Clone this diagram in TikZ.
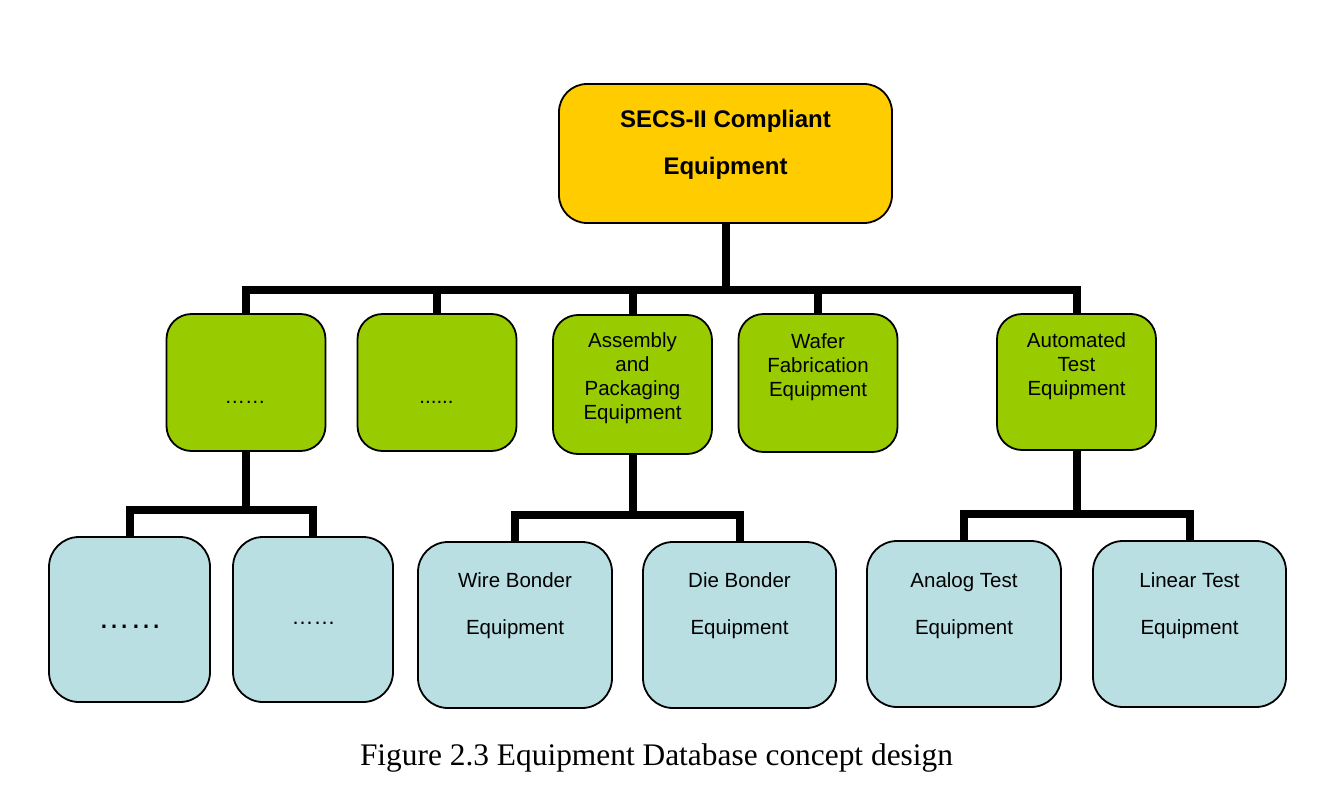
\documentclass[tikz,border=0pt]{standalone}
\usepackage{fontspec}
\setmainfont{Liberation Sans}
\newfontfamily\capfont{Liberation Serif}
\usetikzlibrary{backgrounds}
\definecolor{topyellow}{RGB}{255,204,0}
\definecolor{midgreen}{RGB}{153,204,0}
\definecolor{lowblue}{RGB}{185,223,227}
\begin{document}
\begin{tikzpicture}[x=1pt,y=-1pt,
  boxbase/.style={draw=black,line width=1.8pt,inner sep=0pt,anchor=center},
  topbox/.style={boxbase,fill=topyellow,rounded corners=28pt,minimum width=333pt,minimum height=139pt},
  greenbox/.style={boxbase,fill=midgreen,rounded corners=25pt,minimum width=159pt,minimum height=137pt},
  bluebox/.style={boxbase,fill=lowblue,rounded corners=30pt,minimum width=194pt,minimum height=166pt},
  conn/.style={draw=black,line width=8pt,line join=miter,line cap=butt},
  toptext/.style={inner sep=0pt,anchor=north,align=center,font=\fontsize{24}{47}\selectfont\bfseries},
  greentext/.style={inner sep=0pt,anchor=north,align=center,font=\fontsize{20.5}{24}\selectfont},
  bluetext/.style={inner sep=0pt,anchor=north,align=center,font=\fontsize{20.5}{47}\selectfont},
  dots/.style={inner sep=0pt,anchor=base}
]
\useasboundingbox (0,0) rectangle (1340,792);

% bus coordinates
\coordinate (bus1) at (726,290);
\coordinate (busL) at (245,510);
\coordinate (busM) at (632,515);
\coordinate (busR) at (1077,514);

% boxes
\node[topbox] (top) at (725.5,153.5) {};
\node[greenbox] (g1) at (246,382.5) {};
\node[greenbox] (g2) at (437,382.5) {};
\node[greenbox,minimum height=139pt] (g3) at (632.5,384.5) {};
\node[greenbox,minimum height=138pt] (g4) at (818,383) {};
\node[greenbox,minimum height=136pt] (g5) at (1076.5,382) {};
\node[bluebox,minimum width=161pt,minimum height=165pt] (b1) at (129.5,619.5) {};
\node[bluebox,minimum width=160pt,minimum height=165pt] (b2) at (313,619.5) {};
\node[bluebox] (b3) at (515,625) {};
\node[bluebox,minimum width=193pt] (b4) at (739.5,625) {};
\node[bluebox] (b5) at (964,624) {};
\node[bluebox,minimum width=193pt] (b6) at (1189.5,624) {};

% connectors behind the boxes
\begin{scope}[on background layer]
\fill[white] (0,0) rectangle (1340,792);
\draw[conn] (top.south) -- (top.south |- bus1);
\draw[conn] (g1.north) -- (g1.north |- bus1) -- (g5.north |- bus1) -- (g5.north);
\draw[conn] (g2.north) -- (g2.north |- bus1);
\draw[conn] (g3.north) -- (g3.north |- bus1);
\draw[conn] (g4.north) -- (g4.north |- bus1);
\draw[conn] (g1.south) -- (g1.south |- busL);
\draw[conn] (b1.north) -- (b1.north |- busL) -- (b2.north |- busL) -- (b2.north);
\draw[conn] (g3.south) -- (g3.south |- busM);
\draw[conn] (b3.north) -- (b3.north |- busM) -- (b4.north |- busM) -- (b4.north);
\draw[conn] (g5.south) -- (g5.south |- busR);
\draw[conn] (b5.north) -- (b5.north |- busR) -- (b6.north |- busR) -- (b6.north);
\end{scope}

% texts
\node[toptext] (ttop) at (725.5,110.4) {SECS-II Compliant\\Equipment};
\node[greentext] (tg3) at (632.5,332.6) {Assembly\\and\\Packaging\\Equipment};
\node[greentext] (tg4) at (818,333) {Wafer\\Fabrication\\Equipment};
\node[greentext] (tg5) at (1076.5,332) {Automated\\Test\\Equipment};
\node[bluetext] (tb3) at (515,572.6) {Wire Bonder\\Equipment};
\node[bluetext] (tb4) at (739.5,572.6) {Die Bonder\\Equipment};
\node[bluetext] (tb5) at (964,572.6) {Analog Test\\Equipment};
\node[bluetext] (tb6) at (1189.5,572.6) {Linear Test\\Equipment};

\node[dots,font=\fontsize{20.5}{24}\selectfont] (dg1) at (245,403) {……};
\node[dots,font=\fontsize{20.5}{24}\selectfont] (dg2) at (436.5,403) {......};
\node[dots,font=\fontsize{32}{36}\selectfont] (db1) at (130,628) {……};
\node[dots,font=\fontsize{22}{26}\selectfont] (db2) at (313.5,624) {……};

\node[inner sep=0pt,anchor=base,font=\capfont\fontsize{31.4}{36}\selectfont] (cap) at (656.5,765) {Figure 2.3 Equipment Database concept design};
\end{tikzpicture}
\end{document}
